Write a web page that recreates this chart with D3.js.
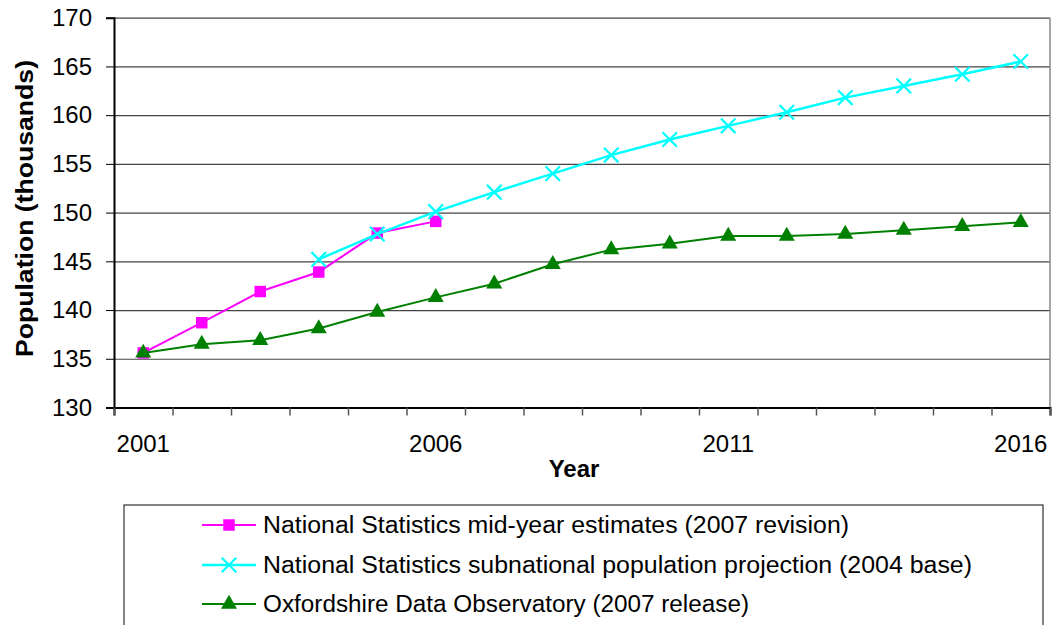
<!DOCTYPE html>
<html>
<head>
<meta charset="utf-8">
<script src="https://cdn.jsdelivr.net/npm/d3@7"></script>
<style>
  html, body { margin: 0; padding: 0; background: #fff; }
  svg { display: block; font-family: "Liberation Sans", Arial, sans-serif; }
</style>
</head>
<body>
<svg id="chart" width="1052" height="625"></svg>
<script>
// ---- data ----
const years = [2001, 2002, 2003, 2004, 2005, 2006, 2007, 2008, 2009, 2010, 2011, 2012, 2013, 2014, 2015, 2016];
const yearLabels = [2001, 2006, 2011, 2016];
const yTicks = [130, 135, 140, 145, 150, 155, 160, 165, 170];

const midYearYears = [2001, 2002, 2003, 2004, 2005, 2006];
const midYearValues = [135.6, 138.7, 141.9, 143.9, 147.9, 149.1];

const projectionYears = [2004, 2005, 2006, 2007, 2008, 2009, 2010, 2011, 2012, 2013, 2014, 2015, 2016];
const projectionValues = [145.2, 147.8, 150.1, 152.1, 154.0, 155.9, 157.5, 158.9, 160.3, 161.8, 163.0, 164.2, 165.5];

const observatoryYears = years;
const observatoryValues = [135.6, 136.5, 136.9, 138.1, 139.8, 141.3, 142.7, 144.7, 146.2, 146.8, 147.6, 147.6, 147.8, 148.2, 148.6, 149.0];

const seriesNames = [
  "National Statistics mid-year estimates (2007 revision)",
  "National Statistics subnational population projection (2004 base)",
  "Oxfordshire Data Observatory (2007 release)"
];

// ---- layout ----
const svg = d3.select("#chart");
const pLeft = 114, pRight = 1050, pTop = 17.7, pBottom = 407.5;

const x = d3.scaleBand().domain(years).range([pLeft, pRight]).padding(0);
const xEdge = d3.scaleLinear().domain([0, years.length]).range([pLeft, pRight]);
const y = d3.scaleLinear().domain([130, 170]).range([pBottom, pTop]);

// gridlines
svg.append("g")
  .attr("transform", `translate(${pLeft},0)`)
  .call(d3.axisLeft(y).tickValues(yTicks).tickSize(-(pRight - pLeft)).tickFormat(""))
  .call(g => g.select(".domain").remove())
  .call(g => g.selectAll("line").attr("stroke", "#444").attr("stroke-width", 1.2));

// right border
svg.append("line").attr("x1", pRight).attr("x2", pRight).attr("y1", pTop).attr("y2", pBottom)
  .attr("stroke", "#888").attr("stroke-width", 1.5);

// y axis
svg.append("g")
  .attr("transform", `translate(${pLeft},0)`)
  .call(d3.axisLeft(y).tickValues(yTicks).tickSize(8).tickPadding(14))
  .call(g => g.select(".domain").attr("stroke", "#000").attr("stroke-width", 2))
  .call(g => g.selectAll("line").attr("stroke", "#000").attr("stroke-width", 1))
  .call(g => g.selectAll("text").attr("font-size", 24).attr("fill", "#000")
    .attr("font-family", "'Liberation Sans', Arial, sans-serif"));

// x axis: tick marks at band edges
svg.append("g")
  .attr("transform", `translate(0,${pBottom})`)
  .call(d3.axisBottom(xEdge).tickValues(d3.range(0, years.length + 1)).tickSize(8).tickFormat(""))
  .call(g => g.select(".domain").attr("stroke", "#000").attr("stroke-width", 2))
  .call(g => g.selectAll("line").attr("stroke", "#555").attr("stroke-width", 1.5));

// x labels at band centers
svg.append("g")
  .attr("transform", `translate(0,${pBottom})`)
  .call(d3.axisBottom(x).tickValues(yearLabels).tickSize(0).tickPadding(27))
  .call(g => g.select(".domain").remove())
  .call(g => g.selectAll("text").attr("font-size", 24).attr("fill", "#000")
    .attr("font-family", "'Liberation Sans', Arial, sans-serif"));

// axis titles
svg.append("text")
  .attr("x", 574).attr("y", 477)
  .attr("text-anchor", "middle")
  .attr("font-size", 24).attr("font-weight", "bold")
  .text("Year");

svg.append("text")
  .attr("transform", "translate(33,208.5) rotate(-90)")
  .attr("text-anchor", "middle")
  .attr("font-size", 24).attr("font-weight", "bold")
  .attr("textLength", 297).attr("lengthAdjust", "spacingAndGlyphs")
  .text("Population (thousands)");

// series
const cx = d => x(d) + x.bandwidth() / 2;
const series = [
  { name: seriesNames[0], xs: midYearYears, vs: midYearValues, color: "#FF00FF", width: 2, symbol: d3.symbolSquare, size: 132, kind: "fill" },
  { name: seriesNames[1], xs: projectionYears, vs: projectionValues, color: "#00FFFF", width: 2.5, symbol: d3.symbolX, size: 140, kind: "stroke" },
  { name: seriesNames[2], xs: observatoryYears, vs: observatoryValues, color: "#008000", width: 2, symbol: d3.symbolTriangle, size: 112, kind: "fill" }
];

const line = d3.line().x(d => cx(d[0])).y(d => y(d[1]));

series.forEach(s => {
  const pts = s.xs.map((yr, i) => [yr, s.vs[i]]);
  const g = svg.append("g");
  g.append("path").datum(pts)
    .attr("d", line)
    .attr("fill", "none")
    .attr("stroke", s.color)
    .attr("stroke-width", s.width);
  g.selectAll("path.m").data(pts).join("path")
    .attr("class", "m")
    .attr("transform", d => `translate(${cx(d[0])},${y(d[1])})`)
    .attr("d", d3.symbol().type(s.symbol).size(s.size))
    .attr("fill", s.kind === "fill" ? s.color : "none")
    .attr("stroke", s.color)
    .attr("stroke-width", s.kind === "fill" ? 0 : 2.2);
});

// legend
const legend = svg.append("g");
legend.append("rect")
  .attr("x", 124).attr("y", 505).attr("width", 919).attr("height", 140)
  .attr("fill", "#fff").attr("stroke", "#333").attr("stroke-width", 1.2);

const legendRowsY = [525, 565, 604];
const legendTextLen = [586, 709, 486];
series.forEach((s, i) => {
  const ly = legendRowsY[i];
  legend.append("line")
    .attr("x1", 202).attr("x2", 256).attr("y1", ly).attr("y2", ly)
    .attr("stroke", s.color).attr("stroke-width", s.width);
  legend.append("path")
    .attr("transform", `translate(229,${ly})`)
    .attr("d", d3.symbol().type(s.symbol).size(s.size))
    .attr("fill", s.kind === "fill" ? s.color : "none")
    .attr("stroke", s.color)
    .attr("stroke-width", s.kind === "fill" ? 0 : 2.2);
  legend.append("text")
    .attr("x", 263).attr("y", ly + 8)
    .attr("font-size", 23)
    .attr("textLength", legendTextLen[i]).attr("lengthAdjust", "spacingAndGlyphs")
    .text(s.name);
});
</script>
</body>
</html>
